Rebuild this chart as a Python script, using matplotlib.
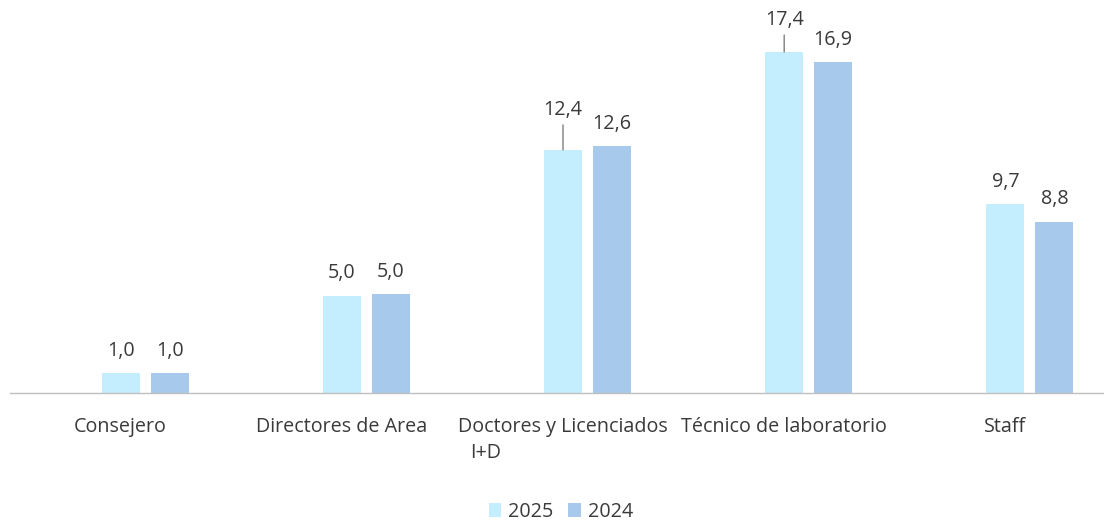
import matplotlib
matplotlib.use("Agg")
import matplotlib.pyplot as plt
import numpy as np

categories = ["Consejero", "Directores de Area", "Doctores y Licenciados", "Técnico de laboratorio", "Staff"]
category_second_line = ["", "", "I+D", "", ""]
series_names = ["2025", "2024"]
values_2025 = [1.0, 4.97, 12.4, 17.4, 9.65]
values_2024 = [1.0, 5.04, 12.6, 16.9, 8.75]
labels_2025 = ["1,0", "5,0", "12,4", "17,4", "9,7"]
labels_2024 = ["1,0", "5,0", "12,6", "16,9", "8,8"]

c2025 = "#C4EDFD"
c2024 = "#A6C9EC"
txt = "#3a3a3a"
fs = 14.2

plt.rcParams['font.family'] = ['Open Sans', 'DejaVu Sans']

W, H = 1104, 525
fig = plt.figure(figsize=(W/100, H/100), dpi=100)
base_px = 393
ax = fig.add_axes([10/W, (H-base_px)/H, 1106/W, 392/H])
ax.set_xlim(-0.5, 4.5)
ax.set_ylim(0, 20)

x = np.arange(len(categories))
slot = 49/221.25
bw = 38/221.25
b1 = ax.bar(x, values_2025, width=bw, color=c2025, label=series_names[0], zorder=2)
b2 = ax.bar(x + slot, values_2024, width=bw, color=c2024, label=series_names[1], zorder=2)

# value labels (leader lines for two labels)
extra_2025 = [0, 0, 40, 32, 0]
for i, (r, lab) in enumerate(zip(b1, labels_2025)):
    xc = r.get_x() + r.get_width()/2
    h = r.get_height()
    if extra_2025[i]:
        off = extra_2025[i]
        ax.annotate(lab, (xc, h), xytext=(0, off*0.72), textcoords='offset points',
                    ha='center', va='center', fontsize=fs, color=txt)
        ax.annotate("", (xc, h), xytext=(0, (off-15)*0.72), textcoords='offset points',
                    arrowprops=dict(arrowstyle='-', color='#7f7f7f', lw=1.0, shrinkA=0, shrinkB=0))
    else:
        ax.annotate(lab, (xc, h), xytext=(0, 16.0), textcoords='offset points',
                    ha='center', va='center', fontsize=fs, color=txt)
for r, lab in zip(b2, labels_2024):
    xc = r.get_x() + r.get_width()/2
    ax.annotate(lab, (xc, r.get_height()), xytext=(0, 16.0), textcoords='offset points',
                ha='center', va='center', fontsize=fs, color=txt)

for s in ['top', 'right', 'left']:
    ax.spines[s].set_visible(False)
ax.spines['bottom'].set_color('#BFBFBF')
ax.spines['bottom'].set_linewidth(1.0)
ax.set_yticks([])
ax.set_xticks(x)
ax.set_xticklabels(categories, fontsize=fs, color=txt)
ax.tick_params(axis='x', length=0, pad=17)
for i, s2 in enumerate(category_second_line):
    if s2:
        ax.text(i - 0.35, -3.05, s2, ha='center', va='center', fontsize=fs, color=txt)

leg = fig.legend(handles=[b1, b2], labels=series_names, loc='center', bbox_to_anchor=(561/W, 1-512/H),
                 ncol=2, frameon=False, fontsize=fs, handlelength=0.65, handleheight=0.65,
                 handletextpad=0.35, columnspacing=0.75, labelcolor=txt)

fig.savefig("out.png", dpi=100)
